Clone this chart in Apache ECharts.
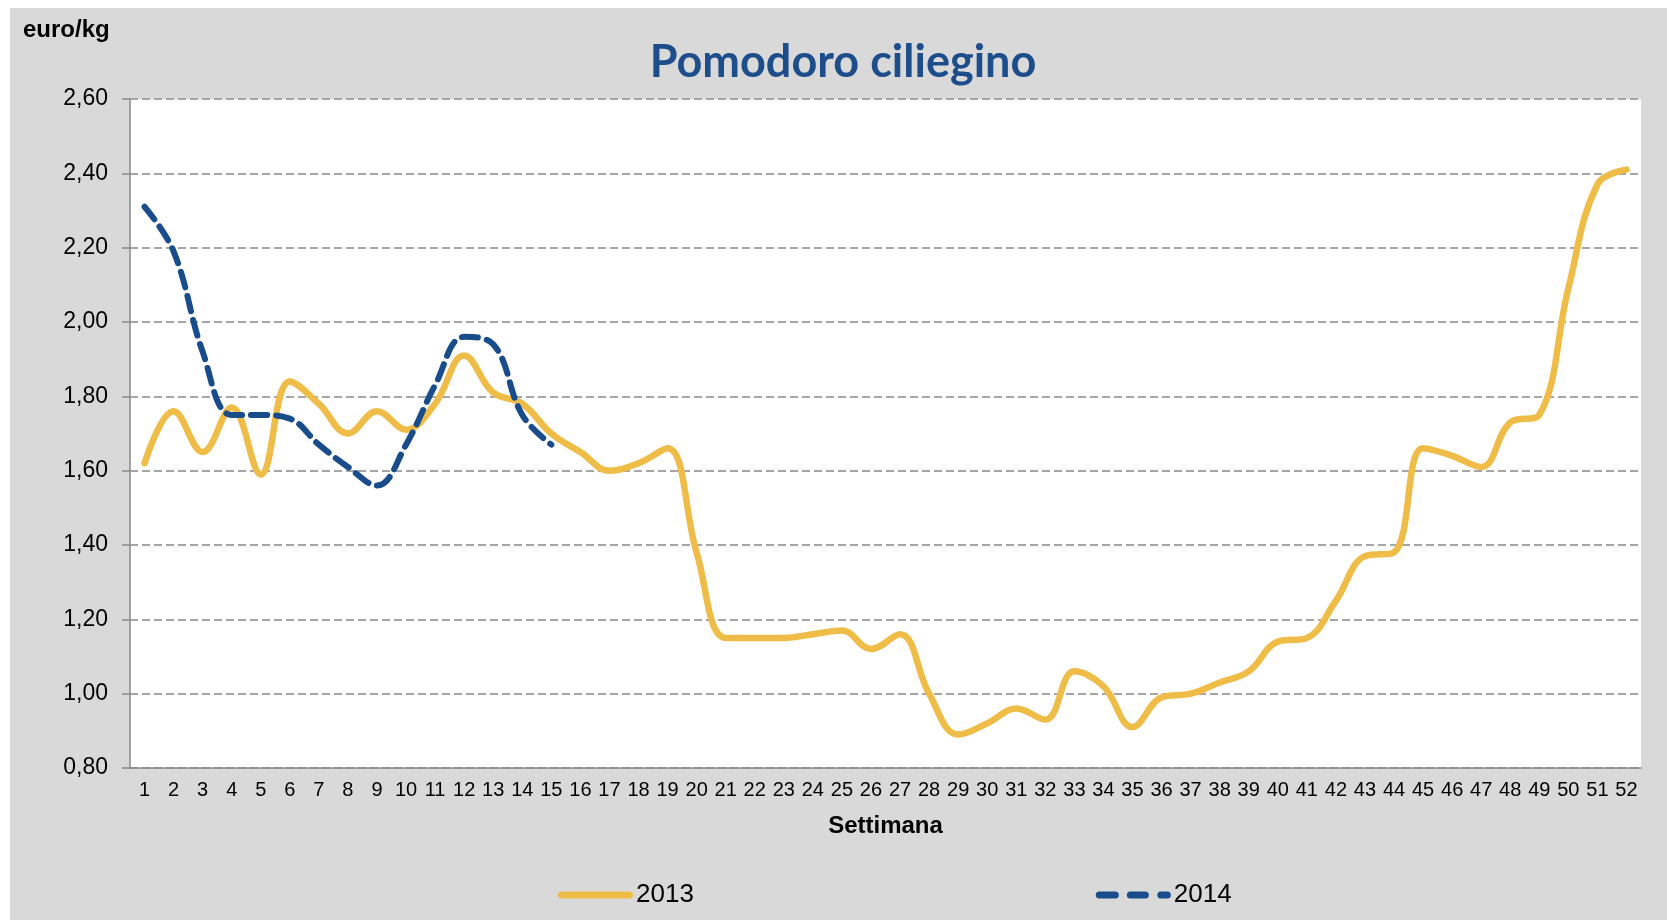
<!DOCTYPE html>
<html lang="it">
	<head>
		<meta charset="UTF-8" />
		<title>Pomodoro ciliegino</title>
		<style>
			body {
				margin: 0;
				padding: 0;
				background: #fff;
			}
			.chart {
				width: 1667px;
				height: 924px;
			}
		</style>
	</head>
	<body>
		<div class="chart"></div>
		<script src="https://cdn.jsdelivr.net/npm/echarts/dist/echarts.min.js"></script>
		<script>
			// settimane 1..52
			const weeks = [];
			for (let i = 1; i <= 52; i++) weeks.push(String(i));

			// prezzi 2013 (euro/kg)
			const prices2013 = [
				1.62, 1.76, 1.65, 1.77, 1.59, 1.84, 1.78, 1.70, 1.76, 1.71,
				1.78, 1.91, 1.81, 1.78, 1.70, 1.65, 1.60, 1.62, 1.66, 1.38,
				1.15, 1.15, 1.15, 1.16, 1.17, 1.12, 1.16, 1.00, 0.89, 0.92,
				0.96, 0.93, 1.06, 1.02, 0.91, 0.99, 1.00, 1.03, 1.06, 1.14,
				1.15, 1.25, 1.37, 1.38, 1.66, 1.64, 1.61, 1.73, 1.75, 2.09,
				2.37, 2.41
			];

			// prezzi 2014 (solo prime 15 settimane)
			const prices2014 = [
				2.31, 2.19, 1.92, 1.75, 1.75, 1.74, 1.67, 1.61, 1.56, 1.67,
				1.83, 1.96, 1.94, 1.75, 1.67
			];

			const seriesNames = ['2013', '2014'];
			const yTicks = [0.8, 1.0, 1.2, 1.4, 1.6, 1.8, 2.0, 2.2, 2.4, 2.6];

			const yellow = '#F0BC48';
			const blue = '#184C8A';
			const axisGrey = '#898989';

			// icone legenda: linea piena e linea tratteggiata (75 x 7)
			const iconSolid = 'path://M3.5,0H71.5A3.5,3.5,0,0,1,71.5,7H3.5A3.5,3.5,0,0,1,3.5,0Z';
			const iconDashed =
				'path://M3.5,0H19.5A3.5,3.5,0,0,1,19.5,7H3.5A3.5,3.5,0,0,1,3.5,0Z' +
				'M34.5,0H49.5A3.5,3.5,0,0,1,49.5,7H34.5A3.5,3.5,0,0,1,34.5,0Z' +
				'M65,0H71.5A3.5,3.5,0,0,1,71.5,7H65A3.5,3.5,0,0,1,65,0Z';

			const container = document.querySelector('.chart');
			const instance = echarts.init(container);
			const option = {
				backgroundColor: '#fff',
				animation: false,
				graphic: [
					{
						type: 'rect',
						z: -10,
						shape: { x: 10, y: 8, width: 1657, height: 912 },
						style: { fill: '#D9D9D9' }
					},
					{
						type: 'text',
						x: 843,
						y: 62,
						style: {
							text: 'Pomodoro ciliegino',
							fill: '#1D4E8B',
							font: 'bold 45px Lato',
							textAlign: 'center',
							textVerticalAlign: 'middle'
						}
					},
					{
						type: 'text',
						x: 23,
						y: 30,
						style: {
							text: 'euro/kg',
							fill: '#000',
							font: 'bold 24px "Liberation Sans"',
							textAlign: 'left',
							textVerticalAlign: 'middle'
						}
					}
				],
				grid: {
					show: true,
					backgroundColor: '#fff',
					borderWidth: 0,
					left: 130,
					right: 26,
					top: 99,
					bottom: 156
				},
				legend: {
					data: [
						{ name: seriesNames[0], icon: iconSolid },
						{ name: seriesNames[1], icon: iconDashed }
					],
					left: 558,
					top: 882,
					padding: 0,
					itemWidth: 75,
					itemHeight: 7,
					itemGap: 402,
					textStyle: {
						fontFamily: 'Liberation Sans',
						fontSize: 26,
						color: '#000',
						padding: [0, 0, 0, -2]
					}
				},
				xAxis: {
					type: 'category',
					data: weeks,
					boundaryGap: true,
					name: 'Settimana',
					nameLocation: 'middle',
					nameGap: 46,
					nameTextStyle: {
						fontFamily: 'Liberation Sans',
						fontWeight: 'bold',
						fontSize: 24,
						color: '#000'
					},
					axisLine: { lineStyle: { color: axisGrey, width: 1.5 } },
					axisTick: { interval: 1, length: 6, lineStyle: { color: axisGrey, width: 1.5 } },
					axisLabel: {
						interval: 0,
						margin: 12,
						fontFamily: 'Liberation Sans',
						fontSize: 20,
						color: '#000'
					}
				},
				yAxis: {
					type: 'value',
					min: yTicks[0],
					max: yTicks[yTicks.length - 1],
					interval: 0.2,
					axisLine: { show: true, lineStyle: { color: axisGrey, width: 1.5 } },
					axisTick: { show: true, length: 8, lineStyle: { color: axisGrey, width: 1.5 } },
					axisLabel: {
						margin: 22,
						fontFamily: 'Liberation Sans',
						fontSize: 23,
						color: '#000',
						formatter: v => v.toFixed(2).replace('.', ',')
					},
					splitLine: {
						lineStyle: { color: '#A6A6A6', width: 2, type: [8, 4] }
					}
				},
				series: [
					{
						name: seriesNames[0],
						type: 'line',
						data: prices2013,
						smooth: 0.4,
						symbol: 'none',
						color: yellow,
						lineStyle: { color: yellow, width: 6.5, cap: 'round', join: 'round' }
					},
					{
						name: seriesNames[1],
						type: 'line',
						data: prices2014,
						smooth: 0.4,
						symbol: 'none',
						color: blue,
						lineStyle: { color: blue, width: 6, type: [16, 9], cap: 'round', join: 'round' }
					}
				]
			};
			instance.setOption(option);
		</script>
	</body>
</html>
